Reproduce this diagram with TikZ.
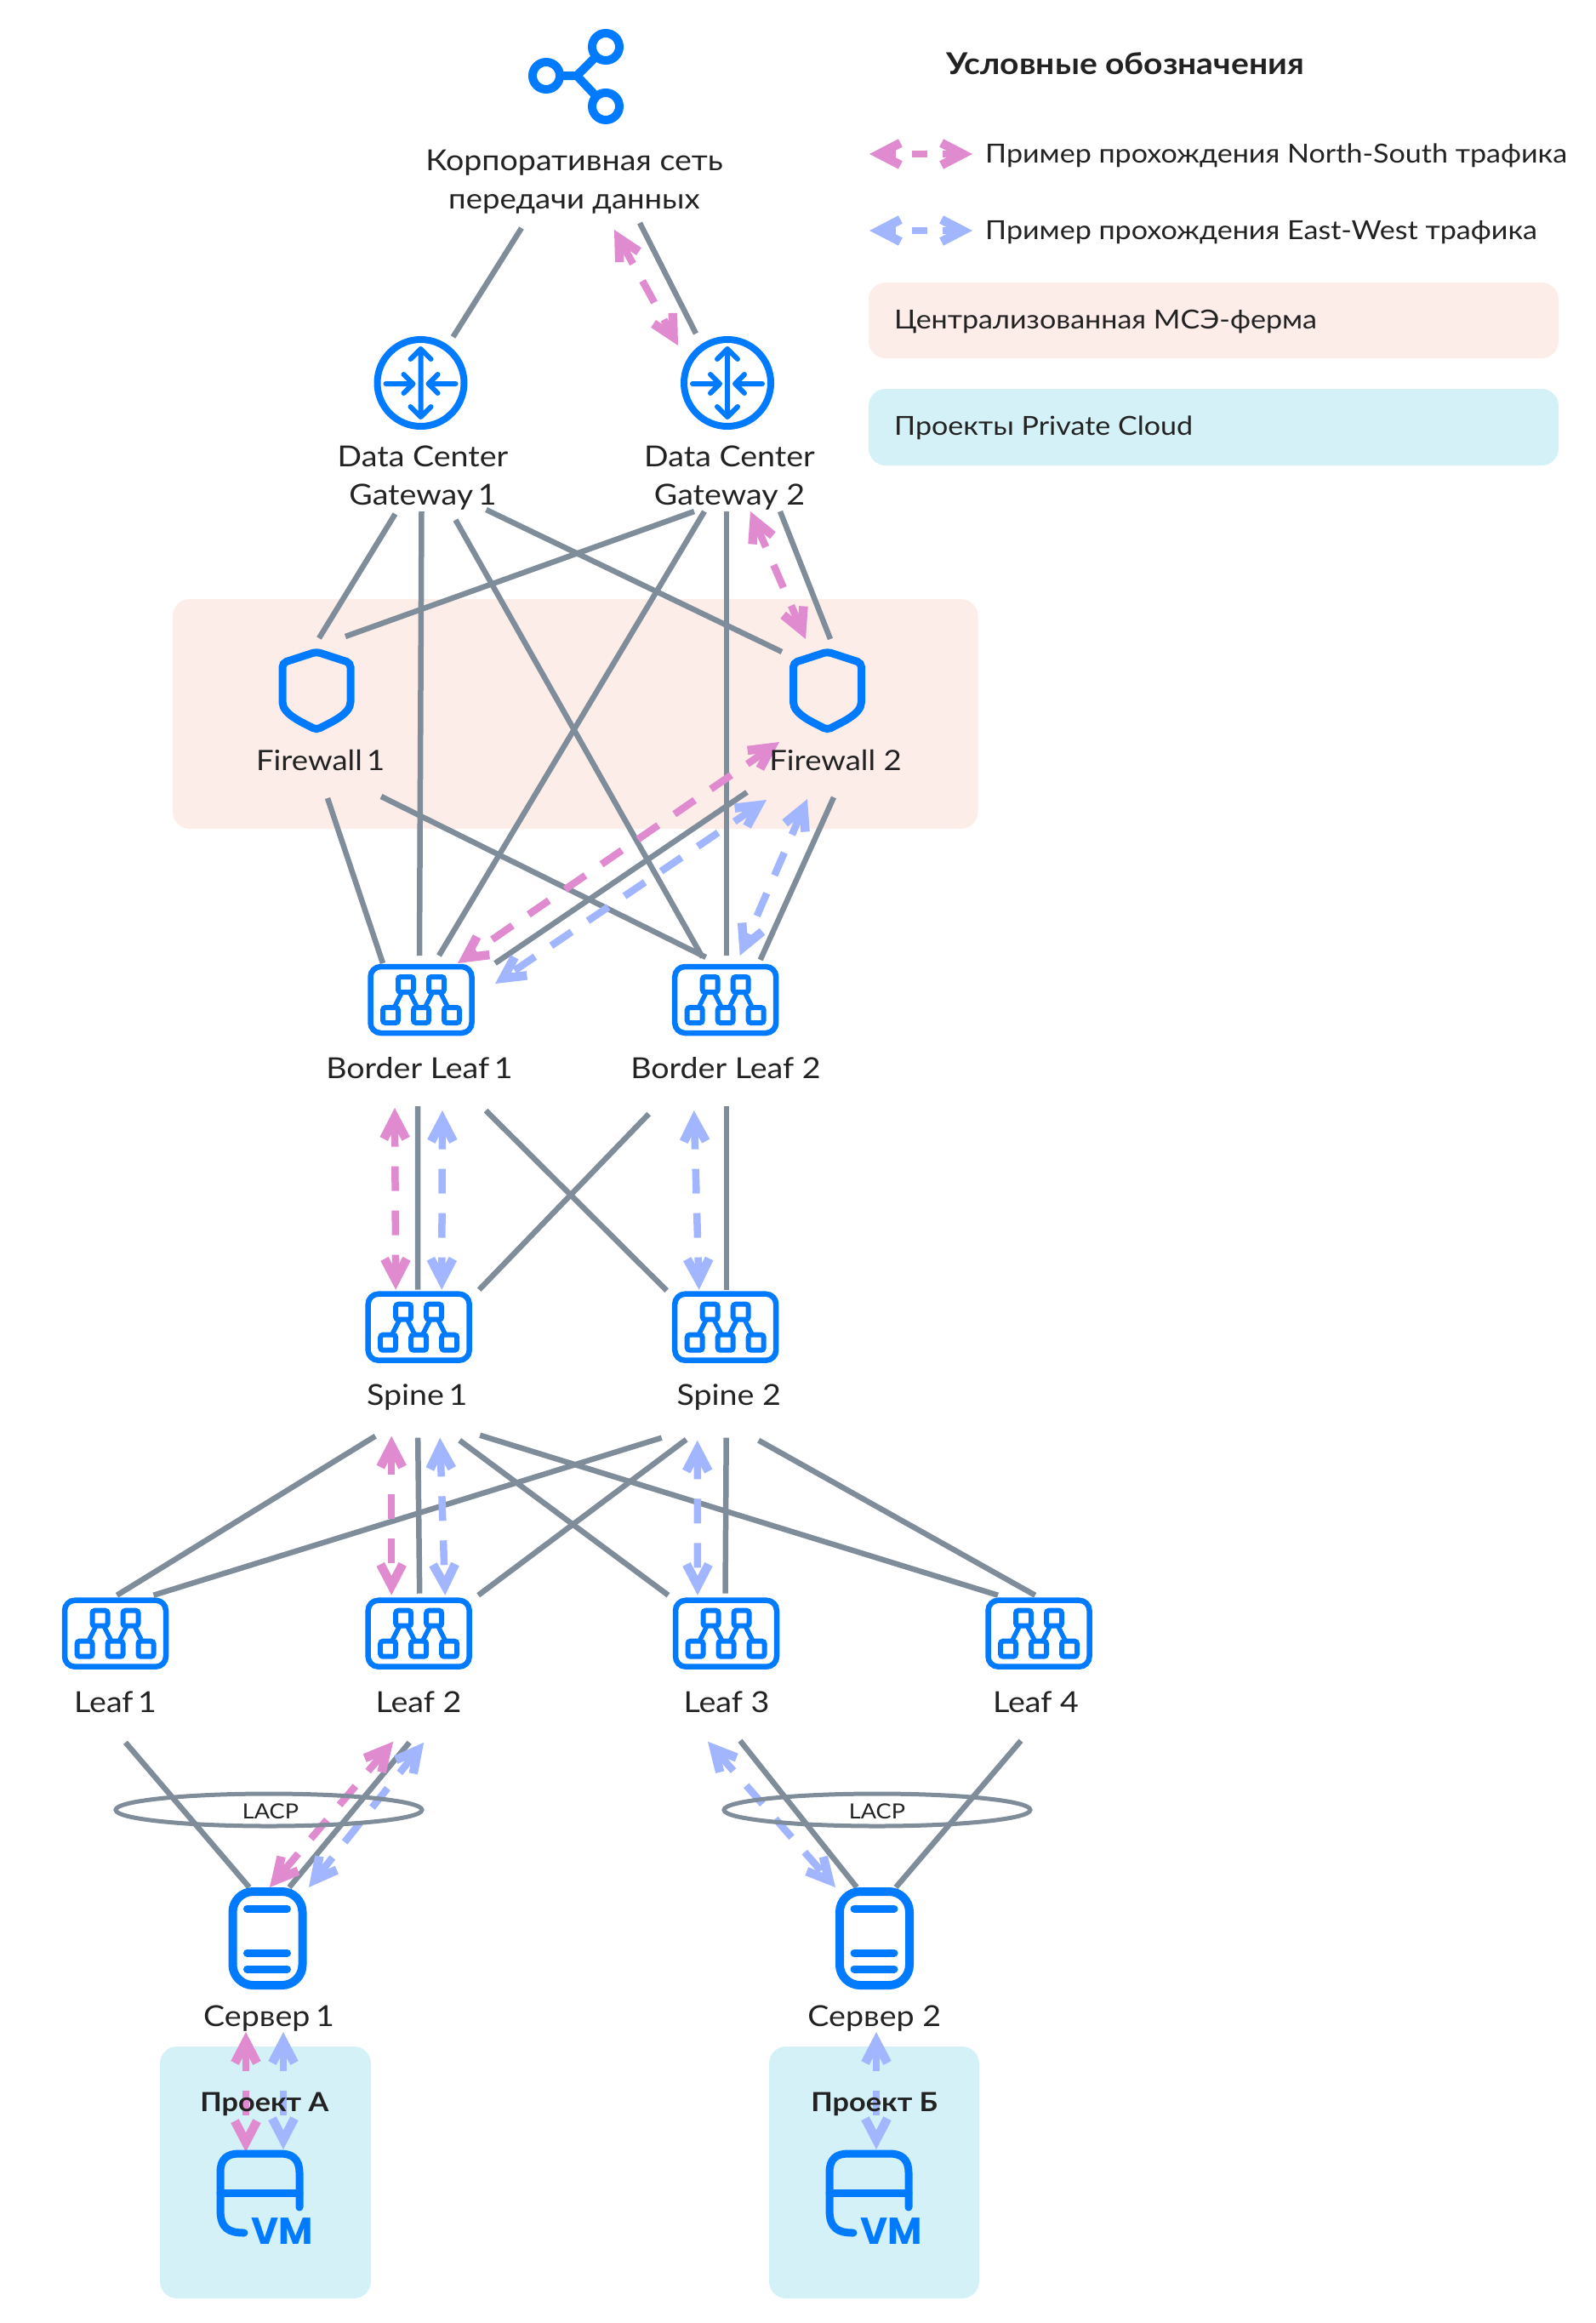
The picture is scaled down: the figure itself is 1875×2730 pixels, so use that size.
\documentclass[tikz,border=0pt]{standalone}
\usepackage{fontspec}
\setmainfont{Lato}[FakeStretch=1.106]
\newfontfamily\vmfont{Poppins}
\usetikzlibrary{calc,arrows.meta}
\definecolor{icon}{RGB}{0,122,255}
\definecolor{wire}{RGB}{127,141,155}
\definecolor{pinkt}{RGB}{224,139,208}
\definecolor{bluet}{RGB}{162,182,255}
\definecolor{pinkbg}{RGB}{253,237,233}
\definecolor{bluebg}{RGB}{212,241,248}
\definecolor{ink}{RGB}{34,34,34}
\newcommand\onekern[1]{\kern-#1pt 1}
\tikzset{
 x=1pt,y=-1pt,
 link/.style={draw=wire,line width=6.5pt},
 ring/.style={draw=wire,line width=5pt},
 barbtip/.tip={Straight Barb[length=25pt,width=26pt,line width=10.5pt]},
 traffic/.style={line width=8.5pt,dash pattern=on 29pt off 23pt,barbtip-barbtip},
 ns/.style={traffic,draw=pinkt},
 ew/.style={traffic,draw=bluet},
 keypart/.style={line width=7.5pt,solid},
 zone/.style={rounded corners=20pt,draw=none},
 lbl/.style={text=ink,font=\fontsize{34}{45}\selectfont,align=center,inner sep=0pt},
 lblb/.style={lbl,anchor=base},
 boldb/.style={lblb,font=\bfseries\fontsize{31}{40}\selectfont},
 keytext/.style={lbl,anchor=west,font=\fontsize{30.8}{40}\selectfont},
 spot/.style={inner sep=0pt,minimum size=1pt},
 iconline/.style={draw=icon,line cap=round,line join=round},
 switchbox/.style={draw=icon,line width=6.5pt,rounded corners=12pt,minimum width=119pt,minimum height=78pt,inner sep=0pt},
 lacptext/.style={text=ink,font=\fontsize{24.5}{30}\selectfont,inner sep=0pt},
 vmtext/.style={text=icon,inner sep=0pt,font=\vmfont\bfseries\fontsize{44}{44}\selectfont},
 fabric/.pic={
   \draw[iconline,line width=5.5pt] (-36,18)--(-18,-18)--(0,18)--(18,-18)--(36,18);
   \foreach \p in {(-18,-18),(18,-18),(-36,18),(0,18),(36,18)}
     \draw[draw=icon,fill=white,line width=6pt,rounded corners=3pt] \p ++(-9,-9) rectangle ++(18,18);
 },
 routerpic/.pic={
   \draw[draw=icon,line width=8pt] (0,0) circle[radius=51];
   \draw[iconline,line width=6pt] (0,-39)--(0,39) (-12,-28)--(0,-40)--(12,-28) (-12,28)--(0,40)--(12,28);
   \draw[iconline,line width=6pt] (-41,1)--(-9,1) (-20,-10)--(-9,1)--(-20,12) (41,1)--(9,1) (20,-10)--(9,1)--(20,12);
 },
 shieldpic/.pic={
   \draw[draw=icon,line width=9pt,rounded corners=5pt] (0,-46)--(40,-33)--(40,8)
     .. controls (40,28) and (14,38) .. (0,46) .. controls (-14,38) and (-40,28) .. (-40,8)
     --(-40,-33)--cycle;
 },
 serverpic/.pic={
   \draw[draw=icon,line width=10pt,rounded corners=24pt] (-41,-55) rectangle (41,55);
   \draw[iconline,line width=9pt] (-24,-35)--(23,-35) (-24,17)--(23,17) (-24,36)--(23,36);
 },
 vmpic/.pic={
   \draw[iconline,line width=9pt] (-18,49) .. controls (-36,49) and (-46,44) .. (-46,22) -- (-46,-22)
     .. controls (-46,-38) and (-38,-44) .. (-24,-44) -- (25,-44) .. controls (38,-44) and (47,-38) .. (47,-22) -- (47,19);
   \draw[iconline,line width=9pt] (-46,2)--(47,2);
 },
}
\begin{document}
\begin{tikzpicture}
\useasboundingbox (0,0) rectangle (1875,2730);
% zones
\fill[pinkbg,zone] (203,704) rectangle (1149.5,974);
\fill[bluebg,zone] (188,2405) rectangle (436,2701);
\fill[bluebg,zone] (904,2405) rectangle (1151,2701);
\fill[pinkbg,zone] (1021,332) rectangle (1832,421);
\fill[bluebg,zone] (1021,457) rectangle (1832,547);
% anchors
\node[spot] (net) at (674,210) {};
\node[spot] (dc1) at (494.5,450) {};
\node[spot] (dc2) at (855,450) {};
\node[spot] (fw1) at (372,812) {};
\node[spot] (fw2) at (972.5,812) {};
\node[switchbox] (bl1) at (495,1175) {};
\node[switchbox] (bl2) at (852.7,1175) {};
\node[switchbox] (sp1) at (492.2,1559.7) {};
\node[switchbox] (sp2) at (852.7,1559.7) {};
\node[switchbox] (lf1) at (135.5,1919.7) {};
\node[switchbox] (lf2) at (492.2,1919.7) {};
\node[switchbox] (lf3) at (853.5,1919.7) {};
\node[switchbox] (lf4) at (1221,1919.7) {};
\node[spot] (sv1) at (314.5,2278) {};
\node[spot] (sv2) at (1028,2278) {};
\node[spot] (vm1) at (305,2575) {};
\node[spot] (vm2) at (1021,2575) {};
% wires
\draw[link] ($(net)+(-61,58)$) -- ($(dc1)+(38,-54)$);
\draw[link] ($(net)+(78,52)$) -- ($(dc2)+(-37,-58)$);
\draw[link] ($(dc1)+(-30,154)$) -- ($(fw1)+(3,-62)$);
\draw[link] ($(dc1)+(1,151)$) -- ($(bl1)+(-2,-52)$);
\draw[link] ($(dc1)+(41,161)$) -- ($(bl2)+(-27,-50)$);
\draw[link] ($(dc1)+(77,149)$) -- ($(fw2)+(-53.5,-46)$);
\draw[link] ($(dc2)+(-39,151)$) -- ($(fw1)+(34,-64)$);
\draw[link] ($(dc2)+(-27,151)$) -- ($(bl1)+(21,-52)$);
\draw[link] ($(dc2)+(-1,151)$) -- ($(bl2)+(1.3,-52)$);
\draw[link] ($(dc2)+(62,151)$) -- ($(fw2)+(3.5,-61)$);
\draw[link] ($(fw1)+(13,126)$) -- ($(bl1)+(-45,-43)$);
\draw[link] ($(fw1)+(76,124)$) -- ($(bl2)+(-23,-50)$);
\draw[link] ($(fw2)+(-94.5,119)$) -- ($(bl1)+(87,-43)$);
\draw[link] ($(fw2)+(7.5,125)$) -- ($(bl2)+(41,-47)$);
\draw[link] ($(bl1)+(-4,125)$) -- ($(sp1)+(-1,-44)$);
\draw[link] ($(bl1)+(76,130)$) -- ($(sp2)+(-69,-43)$);
\draw[link] ($(bl2)+(-90,134)$) -- ($(sp1)+(71,-44)$);
\draw[link] ($(bl2)+(1.3,125)$) -- ($(sp2)+(1.3,-44)$);
\draw[link] ($(sp1)+(-51,128)$) -- ($(lf1)+(2,-45)$);
\draw[link] ($(sp1)+(-1,130)$) -- ($(lf2)+(1,-47)$);
\draw[link] ($(sp1)+(48,133)$) -- ($(lf3)+(-68,-45)$);
\draw[link] ($(sp1)+(72,127)$) -- ($(lf4)+(-48,-45)$);
\draw[link] ($(sp2)+(-75,130)$) -- ($(lf1)+(45,-45)$);
\draw[link] ($(sp2)+(-46,132)$) -- ($(lf2)+(70,-45)$);
\draw[link] ($(sp2)+(1,130)$) -- ($(lf3)+(-1,-47)$);
\draw[link] ($(sp2)+(39,133)$) -- ($(lf4)+(-4.3,-45)$);
\draw[link] ($(lf1)+(12,128)$) -- ($(sv1)+(-21.5,-60)$);
\draw[link] ($(lf2)+(-11,128)$) -- ($(sv1)+(25.5,-60)$);
\draw[link] ($(lf3)+(16.5,126)$) -- ($(sv2)+(-21,-60)$);
\draw[link] ($(lf4)+(-21,126)$) -- ($(sv2)+(25,-60)$);
% traffic
\draw[ns] ($(net)+(48,60)$) -- ($(dc2)+(-58,-44)$);
\draw[ns] ($(dc2)+(27,151)$) -- ($(fw2)+(-25.5,-61)$);
\draw[ns] ($(fw2)+(-56.5,60)$) -- ($(bl1)+(43,-43)$);
\draw[ew] ($(fw2)+(-71.5,128)$) -- ($(bl1)+(87,-19)$);
\draw[ew] ($(fw2)+(-23.5,127)$) -- ($(bl2)+(17,-52)$);
\draw[ns] ($(bl1)+(-31,127)$) -- ($(sp1)+(-27,-44)$);
\draw[ew] ($(bl1)+(25,130)$) -- ($(sp1)+(27,-44)$);
\draw[ew] ($(bl2)+(-37,130)$) -- ($(sp2)+(-31,-44)$);
\draw[ns] ($(sp1)+(-32,128)$) -- ($(lf2)+(-32,-45)$);
\draw[ew] ($(sp1)+(25,130)$) -- ($(lf2)+(31,-45)$);
\draw[ew] ($(sp2)+(-33,133)$) -- ($(lf3)+(-33.5,-45)$);
\draw[ns] ($(lf2)+(-30,127)$) -- ($(sv1)+(2.5,-60)$);
\draw[ew] ($(lf2)+(6,128)$) -- ($(sv1)+(48.5,-60)$);
\draw[ew] ($(lf3)+(-21.5,127)$) -- ($(sv2)+(-46,-60)$);
\draw[ns] ($(sv1)+(-25.5,110)$) -- ($(vm1)+(-16,-46)$);
\draw[ew] ($(sv1)+(18.5,110)$) -- ($(vm1)+(28,-49)$);
\draw[ew] ($(sv2)+(2,110)$) -- ($(vm2)+(9,-49)$);
% LACP rings
\draw[ring] (316,2127) ellipse[x radius=180,y radius=19];
\draw[ring] (1031,2127) ellipse[x radius=180,y radius=19];
\node[lacptext] (lacp1) at (318,2129) {LACP};
\node[lacptext] (lacp2) at (1031,2129) {LACP};
% icons
\draw[iconline,line width=10pt,line cap=butt] (642,89)--(678,89)--(712,55) (678,89)--(712,125);
\foreach \p in {(712,55),(642,89),(712,125)}
  \draw[draw=icon,fill=white,line width=10pt] \p circle[radius=16];
\pic at (dc1) {routerpic};
\pic at (dc2) {routerpic};
\pic at (fw1) {shieldpic};
\pic at (fw2) {shieldpic};
\pic at (bl1) {fabric};
\pic at (bl2) {fabric};
\pic at (sp1) {fabric};
\pic at (sp2) {fabric};
\pic at (lf1) {fabric};
\pic at (lf2) {fabric};
\pic at (lf3) {fabric};
\pic at (lf4) {fabric};
\pic at (sv1) {serverpic};
\pic at (sv2) {serverpic};
\pic at (vm1) {vmpic};
\pic at (vm2) {vmpic};
\node[vmtext] (vmt1) at (332,2622) {VM};
\node[vmtext] (vmt2) at (1048,2622) {VM};
% labels
\node[lbl] (tnet) at (675,213.5) {Корпоративная сеть\\{\fontsize{33}{45}\selectfont передачи данных}};
\node[lbl] (tdc1) at (497,561.5) {Data Center\\Gateway \onekern{4}};
\node[lbl] (tdc2) at (857.5,561.5) {Data Center\\Gateway 2};
\node[lblb,font=\fontsize{33}{45}\selectfont] (tfw1) at (376.7,905) {Firewall \onekern{4}};
\node[lblb,font=\fontsize{33}{45}\selectfont] (tfw2) at (982,905) {Firewall 2};
\node[lblb] (tbl1) at (493,1267.5) {Border Leaf \onekern{4}};
\node[lblb] (tbl2) at (853,1267.5) {Border Leaf 2};
\node[lblb] (tsp1) at (490.3,1651.7) {Spine \onekern{4}};
\node[lblb] (tsp2) at (856.7,1651.7) {Spine 2};
\node[lblb] (tlf1) at (135.6,2012.7) {Leaf \onekern{4}};
\node[lblb] (tlf2) at (492,2012.7) {Leaf 2};
\node[lblb] (tlf3) at (854,2012.7) {Leaf 3};
\node[lblb] (tlf4) at (1217.5,2012.7) {Leaf 4};
\node[lblb] (tsv1) at (316,2381) {Сервер \onekern{3}};
\node[lblb] (tsv2) at (1027.8,2381) {Сервер 2};
\node[boldb] (tpa) at (310.8,2481) {Проект А};
\node[boldb] (tpb) at (1027.8,2481) {Проект Б};
% legend
\node[lbl,font=\bfseries\fontsize{35.3}{40}\selectfont,anchor=west] (ttl) at (1112,75) {Условные обозначения};
\coordinate (kn1) at (1022,181);
\coordinate (kn2) at (1143,181);
\coordinate (ke1) at (1022,271);
\coordinate (ke2) at (1143,271);
\draw[ns,keypart,barbtip-] (kn1) -- ($(kn1)+(31,0)$);
\draw[ns,keypart,-] ($(kn1)+(50,0)$) -- ($(kn1)+(68,0)$);
\draw[ns,keypart,-barbtip] ($(kn2)+(-35,0)$) -- (kn2);
\draw[ew,keypart,barbtip-] (ke1) -- ($(ke1)+(31,0)$);
\draw[ew,keypart,-] ($(ke1)+(50,0)$) -- ($(ke1)+(68,0)$);
\draw[ew,keypart,-barbtip] ($(ke2)+(-35,0)$) -- (ke2);
\node[keytext] (kt1) at (1158,183) {Пример прохождения North-South трафика};
\node[keytext] (kt2) at (1158,273) {Пример прохождения East-West трафика};
\node[keytext] (kt3) at (1051,378) {Централизованная МСЭ-ферма};
\node[keytext] (kt4) at (1051,503) {Проекты Private Cloud};
\end{tikzpicture}
\end{document}
